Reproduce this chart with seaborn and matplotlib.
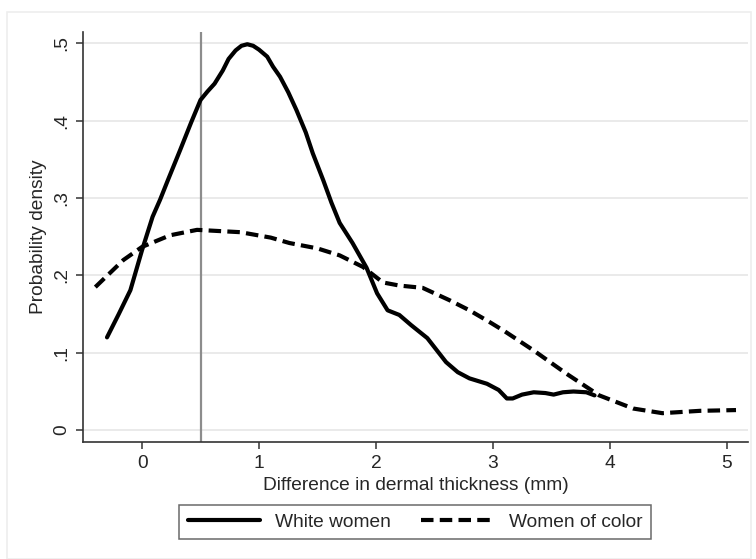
import numpy as np
import matplotlib
matplotlib.use("Agg")
import matplotlib.pyplot as plt
import seaborn as sns
from matplotlib.patches import Rectangle

# density curves
white_x = [-0.30, -0.20, -0.10, 0.00, 0.09, 0.154, 0.22, 0.325, 0.42, 0.50, 0.56, 0.62,
           0.69, 0.74, 0.80, 0.85, 0.90, 0.95, 1.00, 1.07, 1.12, 1.18, 1.25, 1.32, 1.40,
           1.46, 1.55, 1.62, 1.69, 1.80, 1.92, 2.01, 2.10, 2.20, 2.30, 2.44, 2.60, 2.70,
           2.80, 2.95, 3.05, 3.12, 3.17, 3.25, 3.35, 3.45, 3.52, 3.60, 3.69, 3.80, 3.87]
white_y = [0.120, 0.150, 0.181, 0.233, 0.276, 0.298, 0.323, 0.362, 0.398, 0.427, 0.438,
           0.448, 0.465, 0.480, 0.491, 0.497, 0.499, 0.497, 0.492, 0.483, 0.470, 0.457,
           0.437, 0.414, 0.385, 0.358, 0.323, 0.294, 0.268, 0.242, 0.210, 0.177, 0.155,
           0.149, 0.136, 0.119, 0.088, 0.075, 0.067, 0.060, 0.052, 0.041, 0.041, 0.046,
           0.049, 0.048, 0.046, 0.049, 0.050, 0.049, 0.045]

color_x = [-0.40, -0.16, 0.00, 0.24, 0.47, 0.84, 1.10, 1.26, 1.50, 1.69, 1.89, 2.06,
           2.20, 2.40, 2.63, 2.80, 2.97, 3.10, 3.35, 3.63, 3.91, 4.20, 4.45, 4.77, 5.08]
color_y = [0.185, 0.220, 0.237, 0.252, 0.259, 0.256, 0.249, 0.242, 0.235, 0.226, 0.211,
           0.191, 0.187, 0.184, 0.168, 0.155, 0.140, 0.128, 0.103, 0.073, 0.045, 0.028,
           0.022, 0.025, 0.026]

x_ticks = [0, 1, 2, 3, 4, 5]
y_ticks = [0, 0.1, 0.2, 0.3, 0.4, 0.5]
y_tick_labels = ["0", ".1", ".2", ".3", ".4", ".5"]
ref_x = 0.5

sns.set_style("white")
plt.rcParams['font.family'] = ['Liberation Sans', 'DejaVu Sans']
fs = 13.8

fig = plt.figure(figsize=(7.56, 5.59), dpi=100)
ax = fig.add_axes([0.110, 0.209, 0.879, 0.734])

# faint outer frame like the Stata graph region
fig.patches.append(Rectangle((7 / 756, 0), 744 / 756, 1 - 12 / 559, transform=fig.transFigure,
                             fill=False, edgecolor='#eeeeee', linewidth=1.2))

ax.grid(axis='y', color='#e8e8e8', linewidth=1.3)
ax.set_axisbelow(True)

ax.axvline(ref_x, color='#8c8c8c', linewidth=1.6, zorder=2)

sns.lineplot(x=white_x, y=white_y, ax=ax, color='black', linewidth=3.0,
             label='White women', sort=False, zorder=3)
sns.lineplot(x=color_x, y=color_y, ax=ax, color='black', linewidth=3.0,
             label='Women of color', sort=False, zorder=3)
ax.lines[-1].set_dashes((3.0, 1.5))
for ln in ax.lines:
    ln.set_solid_joinstyle('round')
    ln.set_dash_joinstyle('round')

ax.set_xlim(-0.504, 5.18)
ax.set_ylim(-0.0155, 0.515)
ax.set_xticks(x_ticks)
ax.set_yticks(y_ticks)
ax.set_yticklabels(y_tick_labels, rotation=90, va='center')

for s in ['top', 'right']:
    ax.spines[s].set_visible(False)
for s in ['left', 'bottom']:
    ax.spines[s].set_color('#333333')
    ax.spines[s].set_linewidth(1.2)

ax.tick_params(axis='both', direction='out', length=5, width=1.1, color='#333333',
               labelsize=fs, pad=4, left=True, bottom=True)
ax.set_xlabel('Difference in dermal thickness (mm)', fontsize=fs, labelpad=4)
ax.set_ylabel('Probability density', fontsize=fs, labelpad=5)

leg = ax.legend(loc='center', bbox_to_anchor=(415 / 756, 1 - 522 / 559),
                bbox_transform=fig.transFigure, ncol=2, frameon=True, fancybox=False,
                fontsize=fs, handlelength=3.75, columnspacing=1.6, borderpad=0.45,
                handletextpad=0.8)
leg.get_frame().set_edgecolor('#444444')
leg.get_frame().set_linewidth(1.1)

plt.savefig('out.png', dpi=100)
